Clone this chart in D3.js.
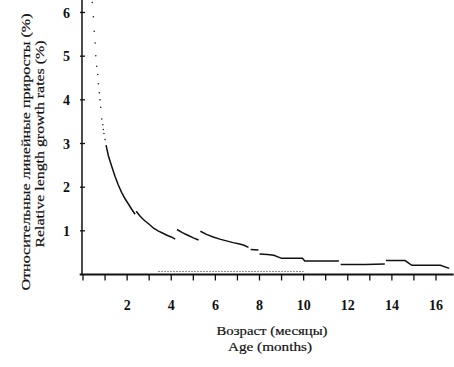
<!DOCTYPE html>
<html><head><meta charset="utf-8">
<script src="https://cdn.jsdelivr.net/npm/d3@7/dist/d3.min.js"></script>
<style>body{margin:0;background:#fff}svg{display:block}</style>
</head><body><svg id="c" width="454" height="367"></svg>
<script>
// Dotted early part (months, %)
const dotMonths = [0.42,0.47,0.51,0.55,0.58,0.62,0.67,0.70,0.74,0.77,0.80,0.85,0.90,0.92,0.95,1.00,1.05];
const dotRates  = [6.23,5.90,5.57,5.30,5.01,4.77,4.58,4.37,4.16,4.00,3.83,3.56,3.43,3.32,3.23,3.09,2.95];
// Solid segments
const segBMonths = [1.05,1.15,1.3,1.45,1.6,1.75,1.9,2.05,2.2,2.36];
const segBRates  = [2.95,2.72,2.48,2.25,2.05,1.88,1.74,1.62,1.50,1.38];
const segCMonths = [2.41,2.6,2.8,3.0,3.2,3.4,3.6,3.8,4.0,4.18];
const segCRates  = [1.45,1.33,1.23,1.15,1.06,1.00,0.95,0.90,0.86,0.81];
const segDMonths = [4.26,4.5,4.75,5.0,5.24];
const segDRates  = [1.03,0.96,0.90,0.84,0.79];
const segEMonths = [5.32,5.6,5.9,6.2,6.5,6.8,7.1,7.3,7.5];
const segERates  = [0.99,0.92,0.86,0.81,0.77,0.73,0.70,0.67,0.62];
const segFMonths = [7.6,7.95];
const segFRates  = [0.57,0.56];
const segGMonths = [8.0,8.36,8.65,9.0,9.95,10.05,11.6];
const segGRates  = [0.47,0.46,0.44,0.37,0.37,0.31,0.31];
const segHMonths = [11.68,12.8,13.68];
const segHRates  = [0.23,0.23,0.24];
const segIMonths = [13.73,14.6,14.9,16.2,16.6];
const segIRates  = [0.32,0.32,0.21,0.21,0.14];
// Faint line near the baseline
const baseMonths = [3.4,10.0];
const baseRates  = [0.07,0.07];

const xTickValues = [0,1,2,3,4,5,6,7,8,9,10,11,12,13,14,15,16];
const xLabelValues = [2,4,6,8,10,12,14,16];
const yTickValues = [1,2,3,4,5,6];

const svg = d3.select("#c");
const x = d3.scaleLinear().domain([0,16]).range([83,436]);
const y = d3.scaleLinear().domain([0,6]).range([274.5,12.5]);
const serif = "'Liberation Serif','DejaVu Serif',serif";

// axes lines
svg.append("line").attr("x1",x(-0.15)).attr("x2",x(16.8)).attr("y1",y(0)).attr("y2",y(0))
  .attr("stroke","#111").attr("stroke-width",1.8);
svg.append("line").attr("x1",82).attr("x2",82).attr("y1",y(0)).attr("y2",y(6.3))
  .attr("stroke","#111").attr("stroke-width",1.5);

// x ticks
svg.selectAll(".xt").data(xTickValues).enter().append("line")
  .attr("x1",d=>x(d)).attr("x2",d=>x(d)).attr("y1",y(0)).attr("y2",y(0)+6)
  .attr("stroke","#111").attr("stroke-width",1.3);
svg.selectAll(".xl").data(xLabelValues).enter().append("text")
  .attr("x",d=>x(d)).attr("y",310).attr("text-anchor","middle")
  .attr("font-family",serif).attr("font-weight","bold").attr("font-size",14).attr("fill","#111")
  .text(d=>d);
// y ticks
svg.selectAll(".yt").data(yTickValues).enter().append("line")
  .attr("x1",80).attr("x2",85).attr("y1",d=>y(d)).attr("y2",d=>y(d))
  .attr("stroke","#111").attr("stroke-width",1.3);
svg.selectAll(".yl").data(yTickValues).enter().append("text")
  .attr("x",70).attr("y",d=>y(d)+5).attr("text-anchor","end")
  .attr("font-family",serif).attr("font-weight","bold").attr("font-size",14).attr("fill","#111")
  .text(d=>d);

// baseline faint line
const line = d3.line().x(d=>x(d[0])).y(d=>y(d[1]));
svg.append("path").datum(d3.zip(baseMonths,baseRates)).attr("d",line)
  .attr("fill","none").attr("stroke","#888").attr("stroke-width",1).attr("stroke-dasharray","2,1");

// dotted part
svg.selectAll(".dot").data(d3.zip(dotMonths,dotRates)).enter().append("circle")
  .attr("cx",d=>x(d[0])).attr("cy",d=>y(d[1])).attr("r",0.8).attr("fill","#222");

// segments
const segs = [[segBMonths,segBRates],[segCMonths,segCRates],[segDMonths,segDRates],[segEMonths,segERates],
  [segFMonths,segFRates],[segGMonths,segGRates],[segHMonths,segHRates],[segIMonths,segIRates]];
segs.forEach(s=>{
  svg.append("path").datum(d3.zip(s[0],s[1])).attr("d",line)
    .attr("fill","none").attr("stroke","#111").attr("stroke-width",1.5);
});

// axis titles
function title(t,len){ return t.attr("font-family",serif).attr("fill","#111").attr("stroke","#111")
  .attr("stroke-width",0.2).attr("text-anchor","middle").attr("font-size",13.5)
  .attr("textLength",len).attr("lengthAdjust","spacingAndGlyphs"); }
title(svg.append("text").attr("x",272).attr("y",335),111).text("Возраст (месяцы)");
title(svg.append("text").attr("x",270).attr("y",351),84).text("Age (months)");
title(svg.append("text").attr("transform","translate(30,152) rotate(-90)"),277).text("Относительные линейные приросты (%)");
title(svg.append("text").attr("transform","translate(44,144) rotate(-90)"),207).text("Relative length growth rates (%)");
</script></body></html>
